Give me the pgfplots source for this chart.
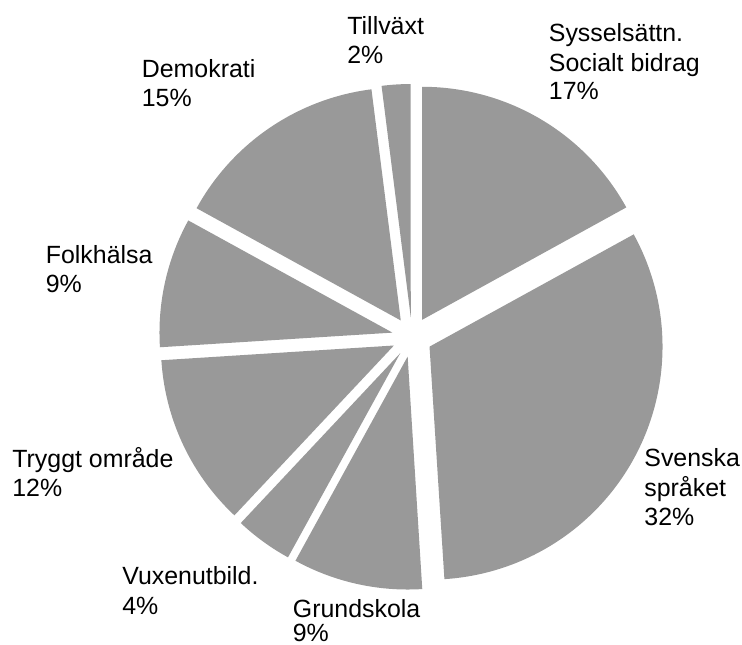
\documentclass[border=0pt]{standalone}
\usepackage{pgfplots}
\pgfplotsset{compat=1.18}
\usepackage{fontspec}
\setmainfont{Liberation Sans}
\definecolor{slice}{RGB}{153,153,153}
\tikzset{lbl/.style={anchor=base west, inner sep=0pt, font=\fontsize{12.45bp}{14.5bp}\selectfont, text=black}}
\begin{document}
\begin{tikzpicture}
\begin{axis}[
  scale only axis, width=371bp, height=322.5bp,
  xmin=0, xmax=742, ymin=0, ymax=645,
  hide axis, clip=false,
]
\path (axis cs:0,0) rectangle (axis cs:742,645);
% pie: values in percent, clockwise from 12 o'clock
\def\cx{412}\def\cy{308}\def\R{233}\def\off{20}
\xdef\start{90}
\foreach \v in {17,32,9,4,12,9,15,2} {
  \pgfmathsetmacro\a{\start}
  \pgfmathsetmacro\b{\start-3.6*\v}
  \pgfmathsetmacro\m{(\a+\b)/2}
  \pgfmathsetmacro\ox{\cx+\off*cos(\m)}
  \pgfmathsetmacro\oy{\cy+\off*sin(\m)}
  \edef\doplot{\noexpand\addplot[fill=slice, draw=none, samples at={0,0.01,...,1,2}]
    ({\ox+(x<=1.5 ? \R : 0)*cos(\a+(\b-\a)*min(x,1))},
     {\oy+(x<=1.5 ? \R : 0)*sin(\a+(\b-\a)*min(x,1))});}
  \doplot
  \xdef\start{\b}
}
% labels (image px: x, 645-baseline)
\node[lbl] at (axis cs:347,610) {Tillväxt};
\node[lbl] at (axis cs:347,581) {2\%};
\node[lbl] at (axis cs:548.5,603) {Sysselsättn.};
\node[lbl] at (axis cs:548.5,573.5) {Socialt bidrag};
\node[lbl] at (axis cs:548.5,545) {17\%};
\node[lbl] at (axis cs:644,178) {Svenska};
\node[lbl] at (axis cs:644,148.5) {språket};
\node[lbl] at (axis cs:644,119) {32\%};
\node[lbl] at (axis cs:292.5,27.5) {Grundskola};
\node[lbl] at (axis cs:292.5,3.5) {9\%};
\node[lbl] at (axis cs:122,61) {Vuxenutbild.};
\node[lbl] at (axis cs:122,31) {4\%};
\node[lbl] at (axis cs:12,177) {Tryggt område};
\node[lbl] at (axis cs:12,148) {12\%};
\node[lbl] at (axis cs:45.5,381) {Folkhälsa};
\node[lbl] at (axis cs:45.5,352) {9\%};
\node[lbl] at (axis cs:141.5,567) {Demokrati};
\node[lbl] at (axis cs:141.5,538) {15\%};
\end{axis}
\end{tikzpicture}
\end{document}
